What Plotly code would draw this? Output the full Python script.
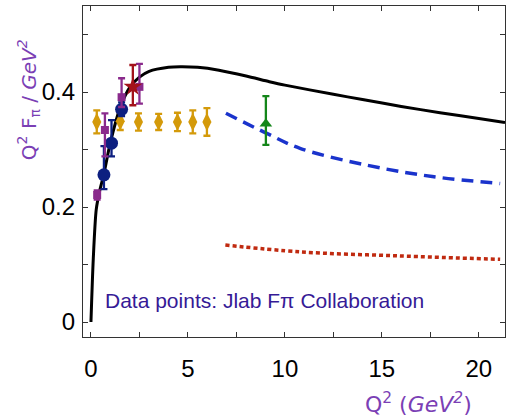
import plotly.graph_objects as go

# Theory curves
curve_x = [0, 0.12, 0.27, 0.45, 0.65, 1.0, 1.5, 2.0, 2.5, 3.0, 4.0, 4.6, 5.5, 6.6, 8.0, 9.2, 10.0, 12.5, 14.0, 16.0, 18.0, 20.0, 21.35]
curve_y = [0, 0.11, 0.195, 0.228, 0.255, 0.312, 0.372, 0.408, 0.426, 0.436, 0.443, 0.444, 0.443, 0.438, 0.428, 0.418, 0.412, 0.396, 0.387, 0.375, 0.364, 0.354, 0.347]

dash_x = [6.96, 9.07, 10.78, 14.2, 17.6, 21.1]
dash_y = [0.363, 0.328, 0.302, 0.273, 0.253, 0.241]

dot_x = [6.93, 10.78, 15.9, 21.1]
dot_y = [0.134, 0.122, 0.115, 0.109]

# Data points (JLab F_pi)
sq_x = [0.32, 0.72, 1.58, 2.5]
sq_y = [0.221, 0.334, 0.391, 0.409]
sq_ep = [0.008, 0.029, 0.033, 0.04]
sq_em = [0.008, 0.046, 0.017, 0.029]

ci_x = [0.67, 1.06, 1.58]
ci_y = [0.256, 0.311, 0.37]
ci_ep = [0.05, 0.04, 0.012]
ci_em = [0.025, 0.023, 0.012]

st_x = [2.16]
st_y = [0.409]
st_ep = [0.038]
st_em = [0.032]

di_x = [0.3, 1.51, 2.45, 3.49, 4.46, 5.25, 5.98]
di_y = [0.348, 0.349, 0.348, 0.348, 0.348, 0.348, 0.348]
di_e = [0.02, 0.015, 0.015, 0.014, 0.016, 0.02, 0.024]

tr_x = [9.02]
tr_y = [0.345]
tr_ep = [0.048]
tr_em = [0.037]

yticks = [0, 0.1, 0.2, 0.3, 0.4, 0.5]
ytext = ["0", "", "0.2", "", "0.4", ""]
xticks = [0, 2.5, 5, 7.5, 10, 12.5, 15, 17.5, 20]
xtext = ["0", "", "5", "", "10", "", "15", "", "20"]

fig = go.Figure()

fig.add_trace(go.Scatter(x=curve_x, y=curve_y, mode="lines", line=dict(color="black", width=3, shape="spline", smoothing=0.7), showlegend=False))
fig.add_trace(go.Scatter(x=dash_x, y=dash_y, mode="lines", line=dict(color="#1a33cc", width=3.5, dash="12px,7px", shape="spline"), showlegend=False))
fig.add_trace(go.Scatter(x=dot_x, y=dot_y, mode="lines", line=dict(color="#c02a10", width=3.5, dash="4px,3px", shape="spline"), showlegend=False))

def errpts(x, y, ep, em, color, symbol, size):
    fig.add_trace(go.Scatter(
        x=x, y=y, mode="markers",
        marker=dict(color=color, symbol=symbol, size=size),
        error_y=dict(type="data", array=ep, arrayminus=em, color=color, thickness=2.3, width=3.5),
        showlegend=False))

errpts(di_x, di_y, di_e, di_e, "#d49a0a", "diamond-tall", 13)
errpts(ci_x, ci_y, ci_ep, ci_em, "#0d1f80", "circle", 13)
errpts(sq_x, sq_y, sq_ep, sq_em, "#8a2a8c", "square", 8)
errpts(st_x, st_y, st_ep, st_em, "#a3121a", "star", 14)
errpts(tr_x, tr_y, tr_ep, tr_em, "#14861a", "triangle-up", 11)

axis_common = dict(showline=True, linecolor="#333333", linewidth=1.2, mirror="ticks",
                   ticks="inside", ticklen=5, tickcolor="#333333", tickwidth=1,
                   showgrid=False, zeroline=False,
                   tickfont=dict(family="Liberation Sans", size=24, color="black"))

fig.update_xaxes(range=[-0.41, 21.35], tickmode="array", tickvals=xticks, ticktext=xtext,
                 ticklabelstandoff=10, **axis_common)
fig.update_yaxes(range=[-0.026, 0.5496], tickmode="array", tickvals=yticks, ticktext=ytext,
                 ticklabelstandoff=2, **axis_common)

fig.update_layout(
    width=510, height=419,
    margin=dict(l=83, r=5, t=6, b=82),
    paper_bgcolor="white", plot_bgcolor="white",
    annotations=[
        dict(x=0.63, y=0.038, xref="x", yref="y", xanchor="left", yanchor="middle",
             text="Data points: Jlab Fπ Collaboration", showarrow=False,
             font=dict(family="Liberation Sans", size=21, color="#361a96")),
        dict(x=-0.13, y=0.716, xref="paper", yref="paper", xanchor="center", yanchor="middle",
             text="Q<sup>2</sup> F<sub>π</sub> / <i>GeV<sup>2</sup></i>", textangle=-90, showarrow=False,
             font=dict(family="DejaVu Sans", size=20, color="#7b3fb5")),
        dict(x=0.794, y=-0.2, xref="paper", yref="paper", xanchor="center", yanchor="middle",
             text="Q<sup>2</sup> (<i>GeV<sup>2</sup></i>)", showarrow=False,
             font=dict(family="DejaVu Sans", size=22, color="#7b3fb5")),
    ],
)

fig.write_html("out.html")
